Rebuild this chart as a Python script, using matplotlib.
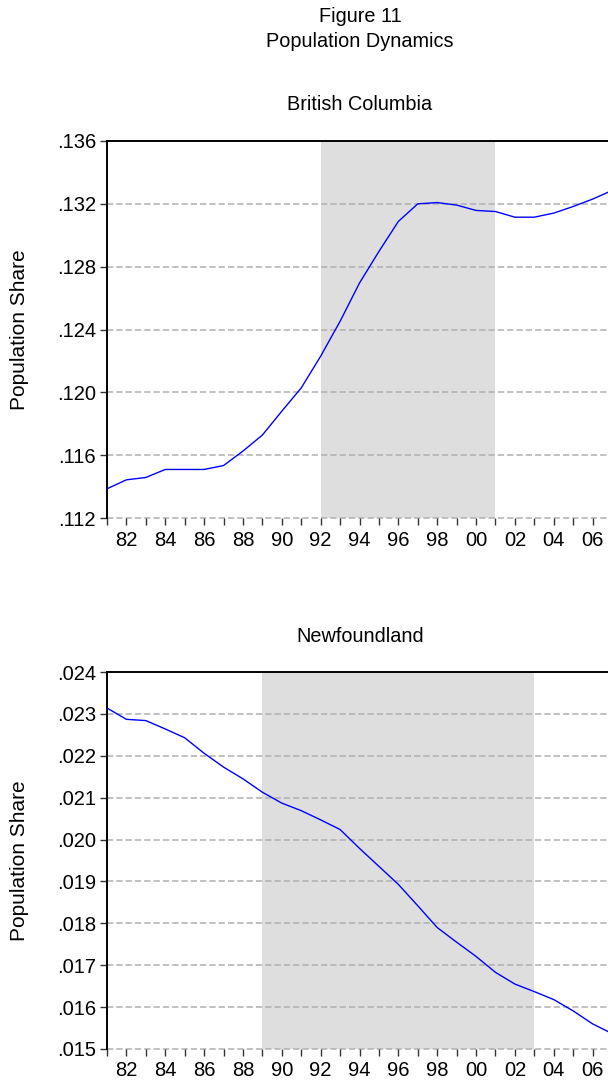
import matplotlib
matplotlib.use("Agg")
import matplotlib.pyplot as plt

plt.rcParams['font.family'] = ['Liberation Sans', 'DejaVu Sans']
plt.rcParams['lines.scale_dashes'] = False

years = list(range(1981, 2008))

bc_share = [0.11386, 0.11443, 0.11458, 0.11509, 0.11509, 0.11509, 0.11534,
            0.11626, 0.11728, 0.11880, 0.12028, 0.12230, 0.12452, 0.12696,
            0.12897, 0.13088, 0.13200, 0.13208, 0.13192, 0.13158, 0.13151,
            0.13115, 0.13115, 0.13141, 0.13183, 0.13230, 0.13285]

nl_share = [0.02314, 0.02287, 0.02284, 0.02264, 0.02243, 0.02206, 0.02173,
            0.02145, 0.02113, 0.02087, 0.02069, 0.02047, 0.02024, 0.01979,
            0.01936, 0.01893, 0.01842, 0.01790, 0.01755, 0.01721, 0.01683,
            0.01655, 0.01637, 0.01618, 0.01591, 0.01560, 0.01537]

bc_shade = (1992, 2001)
nl_shade = (1989, 2003)

bc_yticks = [0.112, 0.116, 0.120, 0.124, 0.128, 0.132, 0.136]
bc_ylabels = ['.112', '.116', '.120', '.124', '.128', '.132', '.136']
nl_yticks = [0.015, 0.016, 0.017, 0.018, 0.019, 0.020, 0.021, 0.022, 0.023, 0.024]
nl_ylabels = ['.015', '.016', '.017', '.018', '.019', '.020', '.021', '.022', '.023', '.024']

W, H = 608, 1084
fig = plt.figure(figsize=(W / 100, H / 100), dpi=100)

def fx(px):
    return px / W

def fy(py):
    return 1 - py / H

left_px, right_px = 107, 612
panels = [
    ("British Columbia", bc_share, bc_shade, bc_yticks, bc_ylabels, 141, 518, 110),
    ("Newfoundland", nl_share, nl_shade, nl_yticks, nl_ylabels, 672, 1049, 642),
]

for title, vals, shade, yt, yl, top_px, bot_px, title_base in panels:
    ax = fig.add_axes([fx(left_px), fy(bot_px), fx(right_px - left_px), (bot_px - top_px) / H])
    ax.axvspan(shade[0], shade[1], color='#dedede', lw=0, zorder=1)
    for v in yt[:-1]:
        ax.axhline(v, color='#b0b0b0', lw=1.1, linestyle=(0, (4.5, 2.2)), zorder=1.5,
                   clip_on=False)
    ax.plot(years, vals, color='#0000ff', lw=1.0, zorder=3)
    ax.set_xlim(1981, 2007)
    ax.set_ylim(yt[0], yt[-1])
    ax.set_yticks(yt)
    ax.set_yticklabels(yl)
    ax.set_xticks(years)
    ax.set_xticklabels([f"{y % 100:02d}" if y % 2 == 0 else "" for y in years])
    for s in ['right', 'bottom']:
        ax.spines[s].set_visible(False)
    for s in ['left', 'top']:
        ax.spines[s].set_linewidth(1.4)
        ax.spines[s].set_color('#000000')
    ax.tick_params(axis='both', direction='out', length=5, width=1.0, color='#333333',
                   labelsize=14.5)
    ax.tick_params(axis='y', pad=3)
    ax.tick_params(axis='x', pad=4)
    fig.text(fx(360), fy(title_base), title, ha='center', va='baseline', fontsize=14.3)
    fig.text(fx(20), fy((top_px + bot_px) / 2), "Population Share", rotation=90,
             ha='center', va='center', fontsize=15)

fig.text(fx(360), fy(21.7), "Figure 11", ha='center', va='baseline', fontsize=14.3)
fig.text(fx(360), fy(46.7), "Population Dynamics", ha='center', va='baseline', fontsize=14.3)

fig.savefig("out.png", dpi=100)
